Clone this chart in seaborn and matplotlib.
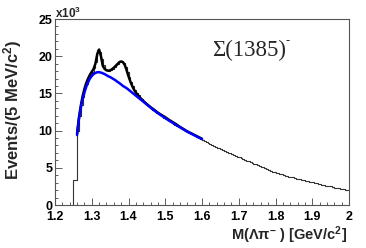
import numpy as np
import pandas as pd
import matplotlib
matplotlib.use("Agg")
import matplotlib.pyplot as plt
import seaborn as sns
from matplotlib.ticker import MultipleLocator

# ---------------- data (events in units of 10^3 per 5 MeV bin) ----------------
bin_width = 0.005
hist_start = 1.245
hist_counts = [
    0.0,
    3.4, 3.4, 9.9, 12.0, 13.4, 14.5, 15.7, 16.3, 17.1, 17.4,
    17.9, 18.4, 19.2, 20.8, 20.6, 19.6, 18.8, 18.3, 18.2, 18.0,
    18.2, 18.3, 18.5, 18.8, 19.0, 19.3, 19.2, 19.1, 18.6, 17.9,
    17.2, 16.5, 16.0, 15.4, 15.1, 14.8, 14.4, 14.2, 13.9, 13.7,
    13.4, 13.2, 12.9, 12.8, 12.6, 12.4, 12.2, 12.1, 11.9, 11.7,
    11.6, 11.4, 11.3, 11.1, 10.95, 10.8, 10.6, 10.5, 10.35, 10.2,
    10.05, 9.9, 9.8, 9.65, 9.5, 9.4, 9.25, 9.1, 9.0, 8.85,
    8.75, 8.6, 8.5, 8.3, 8.25, 8.1, 7.95, 7.85, 7.7, 7.6,
    7.5, 7.35, 7.3, 7.15, 7.0, 6.95, 6.8, 6.7, 6.6, 6.5,
    6.45, 6.3, 6.2, 6.1, 5.95, 5.9, 5.75, 5.65, 5.55, 5.45,
    5.35, 5.25, 5.15, 5.05, 4.95, 4.85, 4.7, 4.6, 4.5, 4.4,
    4.35, 4.25, 4.2, 4.1, 4.0, 3.95, 3.9, 3.8, 3.75, 3.7,
    3.65, 3.55, 3.5, 3.45, 3.35, 3.3, 3.25, 3.2, 3.15, 3.1,
    3.05, 2.95, 2.9, 2.85, 2.8, 2.75, 2.65, 2.6, 2.6, 2.55,
    2.5, 2.45, 2.35, 2.3, 2.3, 2.2, 2.15, 2.1, 2.05, 2.0,
]

fit_x = [
    1.26, 1.265, 1.27, 1.275, 1.28, 1.285, 1.29, 1.295, 1.30, 1.305,
    1.31, 1.315, 1.32, 1.325, 1.33, 1.335, 1.34, 1.345, 1.35, 1.355,
    1.36, 1.365, 1.37, 1.375, 1.38, 1.385, 1.39, 1.395, 1.40, 1.405,
    1.41, 1.415, 1.42, 1.43, 1.44, 1.45, 1.46, 1.47, 1.48, 1.49,
    1.50, 1.51, 1.52, 1.53, 1.54, 1.55, 1.56, 1.57, 1.58, 1.59, 1.60,
]
fit_total = [
    9.6, 11.7, 13.3, 14.6, 15.6, 16.4, 17.0, 17.5, 17.9, 18.3,
    19.0, 20.3, 20.9, 20.0, 18.7, 18.3, 18.1, 18.05, 18.1, 18.25,
    18.45, 18.7, 18.95, 19.2, 19.3, 19.2, 18.8, 18.1, 17.3, 16.6,
    16.0, 15.5, 15.1, 14.5, 14.0, 13.55, 13.15, 12.8, 12.4, 12.1,
    11.8, 11.45, 11.15, 10.85, 10.5, 10.2, 9.9, 9.65, 9.4, 9.15, 8.9,
]
fit_bkg = [
    9.4, 11.5, 13.0, 14.2, 15.1, 15.9, 16.5, 17.0, 17.35, 17.6,
    17.75, 17.85, 17.85, 17.8, 17.7, 17.6, 17.45, 17.3, 17.2, 17.05,
    16.9, 16.75, 16.55, 16.4, 16.2, 16.0, 15.85, 15.7, 15.5, 15.3,
    15.1, 14.9, 14.7, 14.3, 13.9, 13.5, 13.1, 12.7, 12.35, 12.0,
    11.7, 11.35, 11.05, 10.75, 10.45, 10.15, 9.85, 9.6, 9.35, 9.1, 8.85,
]

x_ticks = [1.2, 1.3, 1.4, 1.5, 1.6, 1.7, 1.8, 1.9, 2.0]
x_tick_labels = ["1.2", "1.3", "1.4", "1.5", "1.6", "1.7", "1.8", "1.9", "2"]
y_ticks = [0, 5, 10, 15, 20, 25]
y_tick_labels = ["0", "5", "10", "15", "20", "25"]

# ---------------- figure ----------------
sns.set_style("ticks")
plt.rcParams["font.family"] = ["Liberation Sans", "DejaVu Sans"]
plt.rcParams["mathtext.fontset"] = "custom"
plt.rcParams["mathtext.rm"] = "Liberation Sans:bold"
plt.rcParams["mathtext.it"] = "Liberation Sans:bold:italic"
plt.rcParams["mathtext.bf"] = "Liberation Sans:bold"

fig = plt.figure(figsize=(3.66, 2.48), dpi=100)
ax = fig.add_axes([55 / 366, 43 / 248, 294 / 366, 186 / 248])

n_bins = len(hist_counts)
hist_df = pd.DataFrame({
    "x": [hist_start + bin_width * (i + 0.5) for i in range(n_bins)],
    "w": hist_counts,
})
edges = [hist_start + bin_width * i for i in range(n_bins + 1)]
sns.histplot(data=hist_df, x="x", weights="w", bins=edges, element="step",
             fill=False, color="#333333", linewidth=0.8, ax=ax)

fit_df = pd.DataFrame({"x": fit_x, "total": fit_total, "bkg": fit_bkg})
sns.lineplot(data=fit_df, x="x", y="total", color="black", linewidth=1.8, ax=ax)
sns.lineplot(data=fit_df, x="x", y="bkg", color="#0000ff", linewidth=1.8, ax=ax)

ax.set_xlim(1.2, 2.0)
ax.set_ylim(0, 25)
ax.set_xticks(x_ticks)
ax.set_xticklabels(x_tick_labels, fontweight="bold", fontsize=9)
ax.set_yticks(y_ticks)
ax.set_yticklabels(y_tick_labels, fontweight="bold", fontsize=9)
ax.xaxis.set_minor_locator(MultipleLocator(0.02))
ax.yaxis.set_minor_locator(MultipleLocator(1))
ax.tick_params(which="both", direction="in", top=False, right=False,
               width=0.6, colors="#444444", labelcolor="black")
ax.tick_params(which="major", length=5)
ax.tick_params(which="minor", length=2.5)
ax.tick_params(axis="x", which="major", pad=4.5)
ax.tick_params(axis="y", which="major", pad=2)
for sp in ax.spines.values():
    sp.set_visible(True)
    sp.set_linewidth(0.8)
    sp.set_color("#555555")

ax.set_xlabel("")
ax.set_ylabel("")
fig.text(13 / 366, 1 - 110 / 248, r"Events/(5 MeV/c$^{2}$)", rotation=90,
         ha="center", va="center", fontsize=12, fontweight="bold")
fig.text(347 / 366, 1 - 240 / 248, r"M(Λπ$^{-}$ ) [GeV/c$^{2}$]",
         ha="right", va="baseline", fontsize=10.5, fontweight="bold")
fig.text(55 / 366, 1 - 13 / 248, r"x10$^{3}$", ha="left", va="center",
         fontsize=8.5, fontweight="bold")
fig.text(212 / 366, 1 - 56 / 248, "Σ(1385)", ha="left", va="baseline",
         fontsize=16.5, family=["Liberation Serif", "DejaVu Serif"])
fig.text(286 / 366, 1 - 44 / 248, "-", ha="left", va="baseline",
         fontsize=9, family=["Liberation Serif", "DejaVu Serif"])

fig.savefig("out.png", dpi=100)
